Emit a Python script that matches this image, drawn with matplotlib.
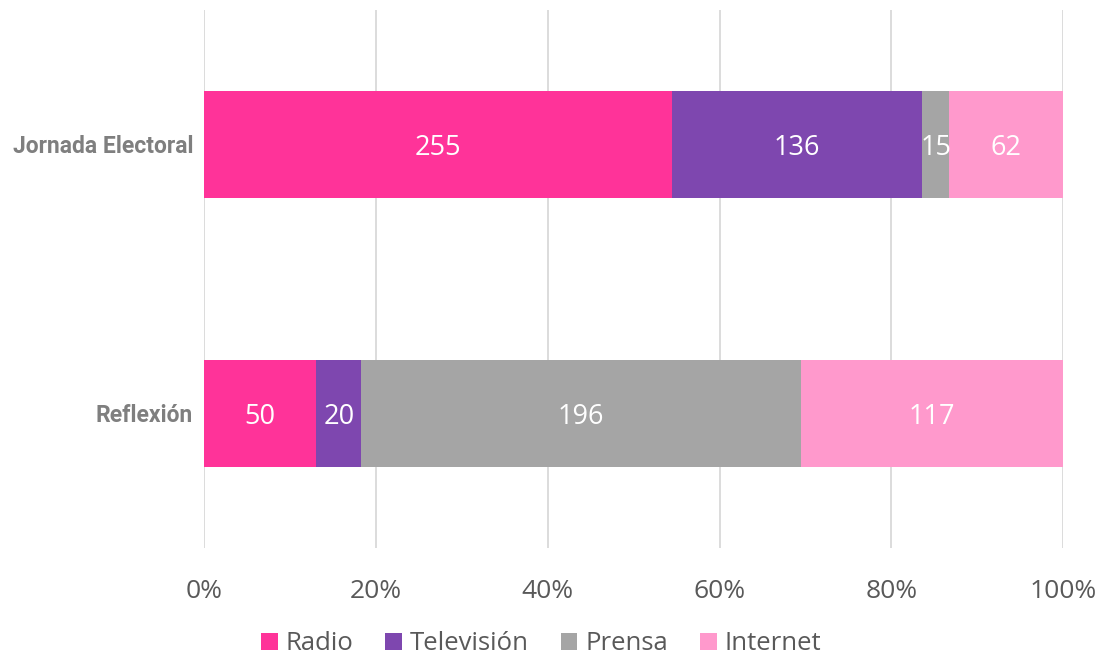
import matplotlib
matplotlib.use("Agg")
import matplotlib.pyplot as plt
from matplotlib.ticker import PercentFormatter

categories = ["Reflexión", "Jornada Electoral"]
series_names = ["Radio", "Televisión", "Prensa", "Internet"]
radio = [50, 255]
television = [20, 136]
prensa = [196, 15]
internet = [117, 62]
colors = ["#FF3399", "#7E47AF", "#A5A5A5", "#FF99CC"]
xticks = [0, 20, 40, 60, 80, 100]

series = [radio, television, prensa, internet]
totals = [sum(s[i] for s in series) for i in range(len(categories))]

fig = plt.figure(figsize=(11.04, 6.61), dpi=100)
ax = fig.add_axes([0.185, 0.171, 0.963 - 0.185, 0.814])

left = [0.0] * len(categories)
ypos = list(range(len(categories)))
for name, vals, col in zip(series_names, series, colors):
    pct = [v / t * 100 for v, t in zip(vals, totals)]
    bars = ax.barh(ypos, pct, left=left, height=0.4, color=col, label=name, zorder=3)
    for b, v in zip(bars, vals):
        ax.text(b.get_x() + b.get_width() / 2, b.get_y() + b.get_height() / 2, str(v),
                ha="center", va="center_baseline", color="white", fontsize=19.5,
                family="Open Sans", zorder=4)
    left = [l + p for l, p in zip(left, pct)]

ax.set_xlim(0, 100)
ax.set_ylim(-0.5, 1.5)
ax.set_xticks(xticks)
ax.xaxis.set_major_formatter(PercentFormatter(decimals=0))
ax.set_yticks(ypos)
ax.set_yticklabels(categories)
for lbl in ax.get_yticklabels():
    lbl.set_family("Roboto")
    lbl.set_fontweight("bold")
    lbl.set_fontsize(16.5)
    lbl.set_color("#7F7F7F")
for lbl in ax.get_xticklabels():
    lbl.set_family("Open Sans")
    lbl.set_fontsize(19)
    lbl.set_color("#595959")
ax.tick_params(axis="both", length=0)
ax.tick_params(axis="x", pad=22)
ax.tick_params(axis="y", pad=8)
ax.grid(axis="x", color="#D9D9D9", linewidth=1.3, zorder=0)
for sp in ax.spines.values():
    sp.set_visible(False)

leg = fig.legend(loc="center", bbox_to_anchor=(0.49, 0.026), ncol=4, frameon=False,
                 prop={"family": "Open Sans", "size": 18.5}, handlelength=0.65,
                 handleheight=0.65, handletextpad=0.3, columnspacing=1.25,
                 borderpad=0.2)
for t in leg.get_texts():
    t.set_color("#595959")

fig.savefig("out.png", dpi=100)
